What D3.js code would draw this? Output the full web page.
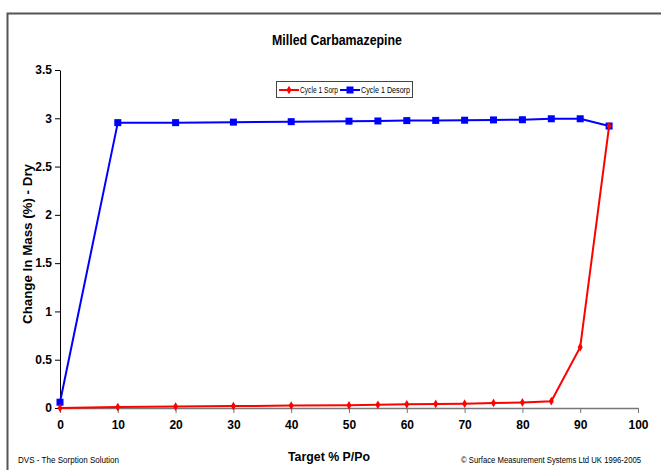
<!DOCTYPE html>
<html>
<head>
<meta charset="utf-8">
<script src="https://cdn.jsdelivr.net/npm/d3@7"></script>
<style>
  body { margin: 0; background: #fff; }
  text { font-family: "Liberation Sans", Arial, sans-serif; }
</style>
</head>
<body>
<div id="chart-area"></div>
<script>
// data
const pressures = [0, 10, 20, 30, 40, 50, 55, 60, 65, 70, 75, 80, 85, 90, 95]
const sorp = [0, 0.01, 0.015, 0.02, 0.025, 0.028, 0.033, 0.038, 0.042, 0.045, 0.052, 0.058, 0.07, 0.63, 2.92]
const desorp = [0.06, 2.955, 2.955, 2.96, 2.965, 2.97, 2.972, 2.976, 2.978, 2.98, 2.983, 2.985, 2.995, 2.995, 2.92]
const xTicks = [0, 10, 20, 30, 40, 50, 60, 70, 80, 90, 100]
const yTicks = [0, 0.5, 1, 1.5, 2, 2.5, 3, 3.5]
const seriesNames = ["Cycle 1 Sorp", "Cycle 1 Desorp"]

const W = 661, H = 470
const MARGIN = { LEFT: 60, RIGHT: 23, TOP: 70, BOTTOM: 62 }
const WIDTH = W - MARGIN.LEFT - MARGIN.RIGHT
const HEIGHT = H - MARGIN.TOP - MARGIN.BOTTOM

const svg = d3.select("#chart-area").append("svg")
  .attr("width", W)
  .attr("height", H)

// outer frame
svg.append("rect")
  .attr("x", 7.5).attr("y", 13.5)
  .attr("width", 700).attr("height", 500)
  .attr("fill", "none")
  .attr("stroke", "#555")
  .attr("stroke-width", 2)

const g = svg.append("g")
  .attr("transform", `translate(${MARGIN.LEFT}, ${MARGIN.TOP})`)

const x = d3.scaleLinear().domain([0, 100]).range([0, WIDTH])
const y = d3.scaleLinear().domain([0, 3.5]).range([HEIGHT, 0])

// axes
const bottomAxis = d3.axisBottom(x).tickValues(xTicks).tickSize(5).tickSizeOuter(0)
g.append("g")
  .attr("class", "bottom axis")
  .attr("transform", `translate(0, ${HEIGHT})`)
  .call(bottomAxis)
  .call(a => a.select(".domain").attr("stroke", "#777").attr("stroke-width", 1.5))
  .call(a => a.selectAll(".tick line").attr("stroke", "#777"))
  .selectAll("text")
    .attr("y", 12)
    .attr("font-size", 12)
    .attr("font-weight", "bold")
    .attr("fill", "#000")

const leftAxis = d3.axisLeft(y).tickValues(yTicks).tickFormat(d => String(d)).tickSize(5).tickSizeOuter(0)
g.append("g")
  .attr("class", "left axis")
  .call(leftAxis)
  .call(a => a.select(".domain").attr("stroke", "#000"))
  .call(a => a.selectAll(".tick line").attr("stroke", "#000"))
  .selectAll("text")
    .attr("x", -8)
    .attr("font-size", 12)
    .attr("font-weight", "bold")
    .attr("fill", "#000")

// title and labels
svg.append("text")
  .attr("x", 337).attr("y", 45)
  .attr("text-anchor", "middle")
  .attr("font-size", 14)
  .attr("font-weight", "bold")
  .attr("textLength", 130)
  .attr("lengthAdjust", "spacingAndGlyphs")
  .text("Milled Carbamazepine")

svg.append("text")
  .attr("x", 329).attr("y", 461)
  .attr("text-anchor", "middle")
  .attr("font-size", 12)
  .attr("font-weight", "bold")
  .attr("textLength", 82)
  .attr("lengthAdjust", "spacingAndGlyphs")
  .text("Target % P/Po")

svg.append("text")
  .attr("transform", `translate(32, 244) rotate(-90)`)
  .attr("text-anchor", "middle")
  .attr("font-size", 12)
  .attr("font-weight", "bold")
  .attr("textLength", 160)
  .attr("lengthAdjust", "spacingAndGlyphs")
  .text("Change In Mass (%) - Dry")

svg.append("text")
  .attr("x", 18).attr("y", 463)
  .attr("font-size", 8.5)
  .attr("textLength", 101)
  .attr("lengthAdjust", "spacingAndGlyphs")
  .text("DVS - The Sorption Solution")

svg.append("text")
  .attr("x", 461).attr("y", 463)
  .attr("font-size", 8.5)
  .attr("textLength", 180)
  .attr("lengthAdjust", "spacingAndGlyphs")
  .text("\u00A9 Surface Measurement Systems Ltd UK 1996-2005")

// series
const line = d3.line()
  .x((d, i) => x(pressures[i]))
  .y(d => y(d))

g.append("path")
  .datum(desorp)
  .attr("fill", "none")
  .attr("stroke", "#0000ff")
  .attr("stroke-width", 2)
  .attr("d", line)

g.append("path")
  .datum(sorp)
  .attr("fill", "none")
  .attr("stroke", "#ff0000")
  .attr("stroke-width", 2)
  .attr("d", line)

g.selectAll(".sq")
  .data(desorp)
  .enter().append("rect")
  .attr("class", "sq")
  .attr("x", (d, i) => x(pressures[i]) - 3.5)
  .attr("y", d => y(d) - 3.5)
  .attr("width", 7).attr("height", 7)
  .attr("fill", "#0000ff")

const diamond = d3.symbol().type(d3.symbolDiamond).size(22)
g.selectAll(".dm")
  .data(sorp)
  .enter().append("path")
  .attr("class", "dm")
  .attr("transform", (d, i) => `translate(${x(pressures[i])}, ${y(d)})`)
  .attr("d", diamond)
  .attr("fill", "#ff0000")

// legend
const legend = svg.append("g").attr("transform", "translate(276, 81)")
legend.append("rect")
  .attr("x", 0.5).attr("y", 0.5)
  .attr("width", 136).attr("height", 16)
  .attr("fill", "#fff")
  .attr("stroke", "#444")

const items = [
  { name: seriesNames[0], color: "#ff0000", x: 3, w: 38, marker: "diamond" },
  { name: seriesNames[1], color: "#0000ff", x: 64, w: 49, marker: "square" }
]
items.forEach(it => {
  const lg = legend.append("g").attr("transform", `translate(${it.x}, 9)`)
  lg.append("line")
    .attr("x1", 0).attr("x2", 20)
    .attr("stroke", it.color).attr("stroke-width", 2)
  if (it.marker === "square") {
    lg.append("rect").attr("x", 6.5).attr("y", -3.5).attr("width", 7).attr("height", 7).attr("fill", it.color)
  } else {
    lg.append("path").attr("transform", "translate(10,0)").attr("d", diamond).attr("fill", it.color)
  }
  lg.append("text")
    .attr("x", 21).attr("y", 3)
    .attr("font-size", 8.5)
    .attr("textLength", it.w)
    .attr("lengthAdjust", "spacingAndGlyphs")
    .text(it.name)
})
</script>
</body>
</html>
